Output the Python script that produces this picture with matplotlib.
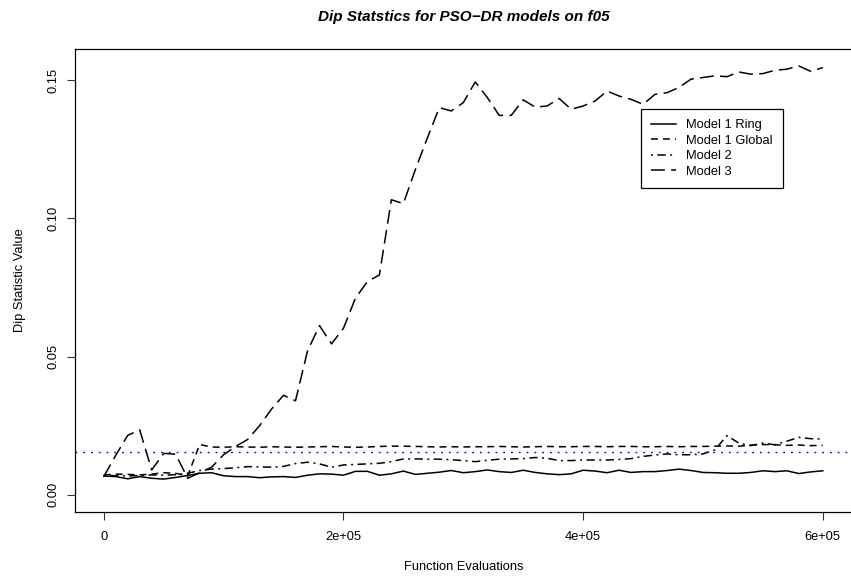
import matplotlib
matplotlib.use("Agg")
import matplotlib.pyplot as plt
from matplotlib.lines import Line2D

plt.rcParams['font.family'] = ['Liberation Sans', 'DejaVu Sans']
plt.rcParams['lines.scale_dashes'] = False

evals = list(range(0, 600001, 10000))

model1_ring = [
    0.0068, 0.0066, 0.0058, 0.0066, 0.0060, 0.0057, 0.0063, 0.0070, 0.0078, 0.0080,
    0.0069, 0.0066, 0.0066, 0.0062, 0.0065, 0.0066, 0.0063, 0.0071, 0.0076, 0.0075,
    0.0071, 0.0085, 0.0085, 0.0071, 0.0076, 0.0086, 0.0074, 0.0078, 0.0082, 0.0088,
    0.0080, 0.0084, 0.0090, 0.0084, 0.0081, 0.0089, 0.0081, 0.0076, 0.0073, 0.0076,
    0.0089, 0.0086, 0.0080, 0.0089, 0.0081, 0.0084, 0.0084, 0.0088, 0.0093, 0.0088,
    0.0081, 0.0080, 0.0078, 0.0078, 0.0081, 0.0087, 0.0084, 0.0087, 0.0077, 0.0083, 0.0087]

model1_global = [
    0.0072, 0.0075, 0.0074, 0.0072, 0.0075, 0.0080, 0.0078, 0.0068, 0.0182, 0.0173,
    0.0172, 0.0174, 0.0173, 0.0172, 0.0174, 0.0173, 0.0172, 0.0173, 0.0174, 0.0175,
    0.0173, 0.0172, 0.0173, 0.0175, 0.0176, 0.0176, 0.0175, 0.0174, 0.0173, 0.0174,
    0.0173, 0.0174, 0.0174, 0.0175, 0.0174, 0.0173, 0.0174, 0.0175, 0.0174, 0.0174,
    0.0175, 0.0175, 0.0174, 0.0175, 0.0175, 0.0174, 0.0174, 0.0175, 0.0174, 0.0175,
    0.0175, 0.0176, 0.0177, 0.0176, 0.0180, 0.0182, 0.0181, 0.0179, 0.0180, 0.0178, 0.0179]

model2 = [
    0.0070, 0.0069, 0.0068, 0.0070, 0.0072, 0.0071, 0.0073, 0.0078, 0.0088, 0.0093,
    0.0095, 0.0098, 0.0102, 0.0101, 0.0100, 0.0103, 0.0113, 0.0118, 0.0112, 0.0100,
    0.0108, 0.0110, 0.0112, 0.0114, 0.0120, 0.0130, 0.0130, 0.0129, 0.0129, 0.0127,
    0.0124, 0.0120, 0.0125, 0.0129, 0.0130, 0.0131, 0.0135, 0.0132, 0.0124, 0.0124,
    0.0126, 0.0126, 0.0126, 0.0128, 0.0131, 0.0139, 0.0144, 0.0148, 0.0145, 0.0145,
    0.0148, 0.0163, 0.0214, 0.0187, 0.0178, 0.0187, 0.0181, 0.0194, 0.0208, 0.0203, 0.0202]

model3 = [
    0.0066, 0.0143, 0.0215, 0.0235, 0.0090, 0.0150, 0.0147, 0.0060, 0.0080, 0.0100,
    0.0145, 0.0175, 0.0200, 0.0250, 0.0310, 0.0360, 0.0340, 0.0520, 0.0612, 0.0546,
    0.0602, 0.0711, 0.0771, 0.0795, 0.1067, 0.1053, 0.1176, 0.1290, 0.1400, 0.1388,
    0.1418, 0.1493, 0.1437, 0.1372, 0.1372, 0.1428, 0.1402, 0.1406, 0.1433, 0.1394,
    0.1406, 0.1424, 0.1460, 0.1442, 0.1430, 0.1412, 0.1448, 0.1454, 0.1473, 0.1503,
    0.1509, 0.1515, 0.1512, 0.1529, 0.1521, 0.1523, 0.1535, 0.1539, 0.1551, 0.1531, 0.1545]

threshold = 0.0155

labels = ["Model 1 Ring", "Model 1 Global", "Model 2", "Model 3"]
x_ticks = [0, 200000, 400000, 600000]
x_ticklabels = ["0", "2e+05", "4e+05", "6e+05"]
y_ticks = [0.00, 0.05, 0.10, 0.15]
y_ticklabels = ["0.00", "0.05", "0.10", "0.15"]

W, H = 851, 576
fig = plt.figure(figsize=(W / 100, H / 100), dpi=100)
L, R, T, B = 75, 853, 49, 512
ax = fig.add_axes([L / W, 1 - B / H, (R - L) / W, (B - T) / H])

lw = 1.1
styles = [
    dict(linestyle='-'),
    dict(linestyle=(0, (5, 3.6))),
    dict(linestyle=(0, (1.4, 3.2, 6, 3.2))),
    dict(linestyle=(0, (10, 4.5))),
]
series = [model1_ring, model1_global, model2, model3]
handles = []
for s, st, lab in zip(series, styles, labels):
    ln, = ax.plot(evals, s, color='black', lw=lw, label=lab, **st)
    handles.append(ln)

ax.axhline(threshold, color='#0000ff', lw=1.0, linestyle=(0, (1.3, 4.3)))

ax.set_xlim(-24000, 624000 * 1.0 + 1200)
ax.set_ylim(-0.0062, 0.1612)
ax.set_xticks(x_ticks)
ax.set_xticklabels(x_ticklabels)
ax.set_yticks(y_ticks)
ax.set_yticklabels(y_ticklabels, rotation=90, va='center')
ax.tick_params(axis='both', direction='out', length=5.5, width=0.8,
               labelsize=9.3, color='#333333')
ax.tick_params(axis='x', pad=8)
ax.tick_params(axis='y', pad=5.5)
for sp in ax.spines.values():
    sp.set_linewidth(0.9)
    sp.set_color('black')

cx = (L + 852) / 2
fig.text(cx / W, 1 - 17 / H, "Dip Statstics for PSO\u2212DR models on f05",
         ha='center', va='center', fontsize=11, fontweight='bold', fontstyle='italic')
fig.text(cx / W, 1 - 567 / H, "Function Evaluations", ha='center', va='center', fontsize=9.3)
fig.text(20 / W, 1 - ((T + B) / 2) / H, "Dip Statistic Value", ha='center', va='center',
         rotation=90, fontsize=9.3)

leg = ax.legend(handles=handles, loc='upper left',
                bbox_to_anchor=((641 - L) / (R - L), (B - 109) / (B - T)),
                borderaxespad=0, fancybox=False, frameon=True, edgecolor='black',
                framealpha=1, fontsize=9.3, handlelength=1.9, handletextpad=0.8,
                labelspacing=0.27, borderpad=0.8)
leg.get_frame().set_linewidth(0.9)

fig.savefig("out.png", dpi=100)
